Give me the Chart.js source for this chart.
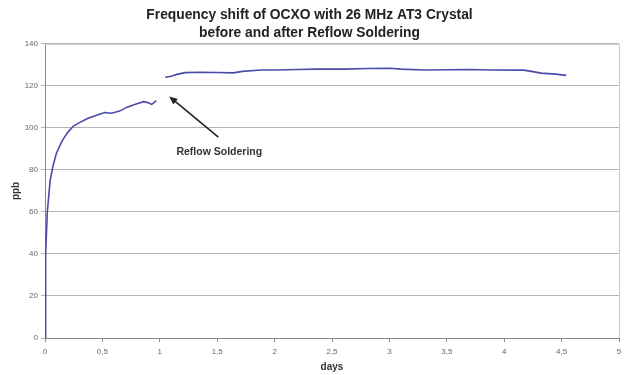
<!DOCTYPE html>
<html>
<head>
<meta charset="utf-8">
<script src="https://cdn.jsdelivr.net/npm/chart.js@4"></script>
<style>
  html, body { margin: 0; padding: 0; background: #fff; }
  #wrap { width: 628px; height: 375px; }
</style>
</head>
<body>
<div id="wrap"><canvas id="myChart"></canvas></div>
<script>
// before reflow
let daysBefore = [0, 0.003, 0.008, 0.02, 0.045, 0.07, 0.1, 0.15, 0.2, 0.25, 0.3, 0.37, 0.45, 0.52, 0.58, 0.65, 0.72, 0.8, 0.86, 0.9, 0.93, 0.97];
let ppbBefore = [0, 30, 40, 60, 75, 82, 88, 94, 98, 101, 102.5, 104.5, 106, 107.3, 107, 108, 110, 111.5, 112.5, 112, 111.2, 113];
// after reflow
let daysAfter = [1.047, 1.1, 1.15, 1.22, 1.35, 1.5, 1.64, 1.72, 1.88, 2.0, 2.2, 2.37, 2.6, 2.81, 3.0, 3.1, 3.3, 3.5, 3.7, 3.9, 4.17, 4.25, 4.32, 4.45, 4.54];
let ppbAfter = [124.1, 124.6, 125.5, 126.3, 126.5, 126.4, 126.2, 126.9, 127.6, 127.6, 127.8, 128.0, 128.0, 128.3, 128.4, 128.0, 127.6, 127.7, 127.8, 127.6, 127.5, 126.8, 126.1, 125.6, 125.0];

let xTicks = [0, 0.5, 1, 1.5, 2, 2.5, 3, 3.5, 4, 4.5, 5];
let yTicks = [0, 20, 40, 60, 80, 100, 120, 140];

let noteText = 'Reflow Soldering';
let noteAt = { x: 1.518, y: 88.4 };
let arrowFrom = { x: 1.51, y: 95.6 };
let arrowTo = { x: 1.082, y: 115 };

const toPoints = (xs, ys) => xs.map((x, i) => ({ x: x, y: ys[i] }));

const lineColor = '#4a4aa8';
const fontName = '"Liberation Sans", Arial, sans-serif';

// box round the plot + the arrow note
const extras = {
  id: 'extras',
  afterDraw(chart) {
    let c = chart.ctx;
    let a = chart.chartArea;
    let sx = chart.scales.x, sy = chart.scales.y;
    c.save();
    c.strokeStyle = '#c8c8c8';
    c.lineWidth = 1;
    c.beginPath();
    c.moveTo(a.left, a.top + 0.5);
    c.lineTo(a.right + 0.5, a.top + 0.5);
    c.lineTo(a.right + 0.5, a.bottom);
    c.stroke();

    let x1 = sx.getPixelForValue(arrowFrom.x), y1 = sy.getPixelForValue(arrowFrom.y);
    let x2 = sx.getPixelForValue(arrowTo.x), y2 = sy.getPixelForValue(arrowTo.y);
    let ang = Math.atan2(y2 - y1, x2 - x1);
    c.strokeStyle = '#222';
    c.fillStyle = '#222';
    c.lineWidth = 1.6;
    c.beginPath();
    c.moveTo(x1, y1);
    c.lineTo(x2 - 5 * Math.cos(ang), y2 - 5 * Math.sin(ang));
    c.stroke();
    c.beginPath();
    c.moveTo(x2, y2);
    c.lineTo(x2 - 9 * Math.cos(ang - 0.4), y2 - 9 * Math.sin(ang - 0.4));
    c.lineTo(x2 - 9 * Math.cos(ang + 0.4), y2 - 9 * Math.sin(ang + 0.4));
    c.closePath();
    c.fill();

    c.font = 'bold 10.5px ' + fontName;
    c.fillStyle = '#333';
    c.textAlign = 'center';
    c.textBaseline = 'middle';
    c.fillText(noteText, sx.getPixelForValue(noteAt.x), sy.getPixelForValue(noteAt.y));
    c.restore();
  }
};

const ctx = document.getElementById('myChart');
let myChart = new Chart(ctx, {
  type: 'scatter',
  data: {
    datasets: [
      { data: toPoints(daysBefore, ppbBefore), showLine: true, borderColor: lineColor, borderWidth: 1.6, pointRadius: 0, tension: 0 },
      { data: toPoints(daysAfter, ppbAfter), showLine: true, borderColor: lineColor, borderWidth: 1.6, pointRadius: 0, tension: 0 }
    ]
  },
  options: {
    responsive: true,
    maintainAspectRatio: false,
    animation: false,
    layout: { padding: { left: 0, right: 9, top: 0, bottom: 0 } },
    plugins: {
      legend: { display: false },
      tooltip: { enabled: false },
      title: {
        display: true,
        text: ['Frequency shift of OCXO with 26 MHz AT3 Crystal', 'before and after Reflow Soldering'],
        color: '#222',
        font: { family: fontName, size: 13.8, weight: 'bold', lineHeight: 1.3 },
        padding: { top: 6, bottom: 2 }
      }
    },
    scales: {
      x: {
        type: 'linear',
        min: 0, max: 5,
        afterBuildTicks: s => { s.ticks = xTicks.map(v => ({ value: v })); },
        afterFit: s => { s.height = 37; },
        ticks: {
          color: '#666',
          font: { family: fontName, size: 8 },
          padding: 5,
          maxRotation: 0,
          callback: v => String(v).replace('.', ',')
        },
        grid: { drawOnChartArea: false, color: '#888', tickLength: 4 },
        border: { color: '#888', width: 1 },
        title: { display: true, text: 'days', color: '#333', font: { family: fontName, size: 10, weight: 'bold' }, padding: { top: 0, bottom: 2 } }
      },
      y: {
        min: 0, max: 140,
        afterBuildTicks: s => { s.ticks = yTicks.map(v => ({ value: v })); },
        afterFit: s => { s.width = 45; },
        ticks: {
          color: '#666',
          font: { family: fontName, size: 8 },
          padding: 3
        },
        grid: { color: '#b4b4b4', tickLength: 4, lineWidth: 1 },
        border: { color: '#888', width: 1 },
        title: { display: true, text: 'ppb', color: '#333', font: { family: fontName, size: 10, weight: 'bold' }, padding: { top: 10, bottom: 4 } }
      }
    }
  },
  plugins: [extras]
});
</script>
</body>
</html>
